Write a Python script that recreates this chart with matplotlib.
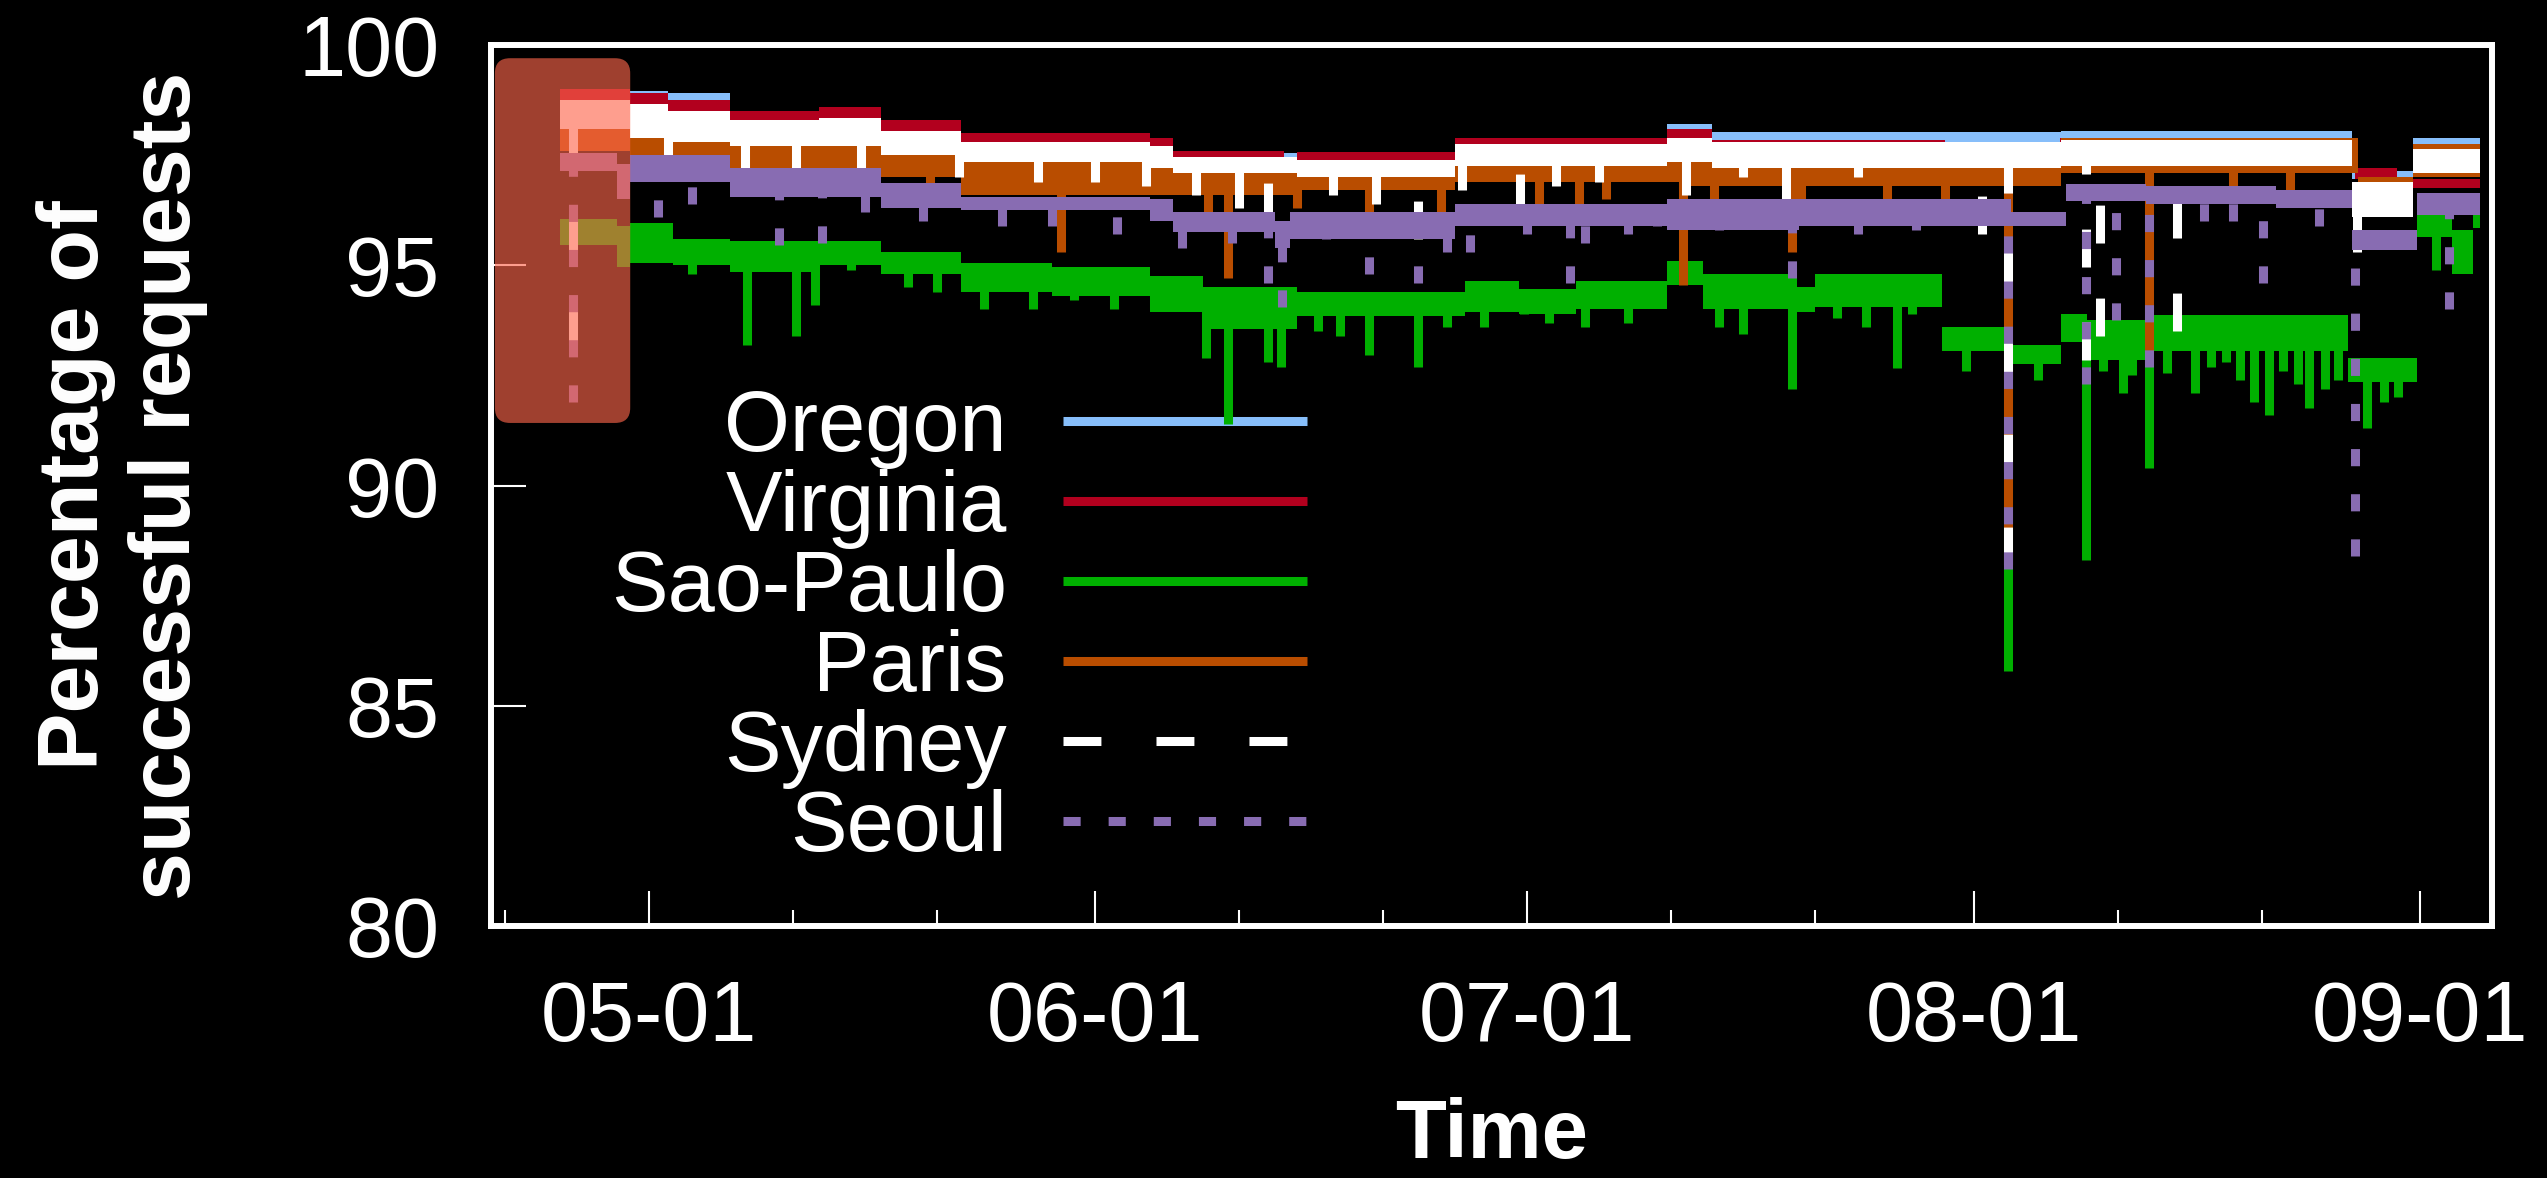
import matplotlib
matplotlib.use('agg')
import matplotlib.pyplot as plt
import matplotlib.dates as mdates
from matplotlib.lines import Line2D
from matplotlib.patches import FancyBboxPatch
import numpy as np

plt.rcParams['font.family'] = ['Liberation Sans', 'DejaVu Sans']

# x values are days after 05-01; each level holds until the next day entry
END_DAY = 127.2

oregon_day = [-6.2, -1.3, 1.3, 5.6, 11.8, 16.1, 21.7, 34.8, 36.4, 45.0, 56.0, 70.7, 73.8, 98.1, 118.3, 122.5]
oregon_lo = [98.6, 98.55, 98.35, 98.2, 98.2, 97.9, 97.75, 97.55, 97.4, 97.35, 97.6, 97.9, 97.75, 97.7, 96.95, 97.65]
oregon_hi = [98.95, 98.95, 98.9, 98.45, 98.55, 98.25, 97.95, 97.85, 97.55, 97.5, 97.85, 98.2, 98.02, 98.05, 97.15, 97.9]

virginia_day = [-6.2, -1.3, 1.3, 5.6, 11.8, 16.1, 21.7, 34.8, 36.4, 44.1, 45.0, 56.0, 70.7, 73.8, 90.0, 98.0, 106.0, 118.5, 121.4]
virginia_lo = [98.6, 98.55, 98.35, 98.2, 98.2, 97.9, 97.75, 97.55, 97.4, 96.9, 97.35, 97.6, 97.8, 97.6, 97.5, 97.6, 97.55, 96.95, 96.75]
virginia_hi = [99.0, 98.9, 98.75, 98.5, 98.6, 98.3, 98.0, 97.9, 97.6, 97.3, 97.57, 97.9, 98.1, 97.85, 97.8, 97.9, 97.8, 97.2, 96.95]

saopaulo_day = [-6.2, -2.2, -1.3, 1.7, 5.6, 11.8, 16.1, 21.7, 28.0, 34.8, 38.5, 45.0, 56.7, 60.4, 64.4, 70.7, 73.2,
                79.7, 81.0, 89.8, 94.5, 98.1, 99.9, 104.4, 118.0, 122.8, 125.2, 126.7]
saopaulo_lo = [95.45, 94.96, 95.05, 95.0, 94.85, 95.0, 94.8, 94.4, 94.3, 93.95, 93.55, 93.85, 93.95, 93.9, 94.0, 94.55, 94.0,
               93.95, 94.05, 93.05, 92.75, 93.25, 92.85, 93.05, 92.35, 95.65, 94.8, 95.85]
saopaulo_hi = [96.05, 95.9, 95.96, 95.6, 95.55, 95.55, 95.3, 95.05, 94.95, 94.75, 94.5, 94.4, 94.65, 94.45, 94.65, 95.1, 94.8,
               94.5, 94.8, 93.6, 93.2, 93.9, 93.75, 93.87, 92.9, 96.25, 95.8, 96.2]
saopaulo_spike_day = [3.0, 6.8, 10.2, 11.5, 14.0, 18.0, 20.0, 23.3, 26.7, 29.5, 32.3, 35.1, 38.7, 40.2, 43.0, 43.9,
                      46.5, 48.0, 50.0, 53.4, 55.4, 58.0, 60.8, 62.5, 65.0, 68.0, 74.3, 76.0, 79.4, 82.5, 84.5,
                      86.7, 87.7, 91.5, 94.4, 96.5, 99.8, 101.0, 102.4, 103.0, 104.2, 105.4, 107.4, 108.5, 109.5,
                      110.5, 111.5, 112.5, 113.5, 114.5, 115.3, 116.4, 117.3, 119.3, 120.5, 121.5, 124.1]
saopaulo_spike_val = [94.8, 93.2, 93.4, 94.1, 94.9, 94.5, 94.4, 94.0, 94.0, 94.2, 94.0, 94.0, 92.9, 91.4, 92.8, 92.7,
                      93.5, 93.4, 92.96, 92.7, 93.6, 93.6, 93.9, 93.7, 93.6, 93.7, 93.6, 93.45, 92.2, 93.8, 93.6,
                      92.67, 93.9, 92.6, 85.8, 92.4, 88.3, 92.6, 92.1, 92.5, 90.4, 92.55, 92.1, 92.7, 92.8,
                      92.4, 91.9, 91.6, 92.6, 92.3, 91.75, 92.2, 92.4, 91.3, 91.9, 92.0, 94.9]

paris_day = [-6.2, -1.3, 5.6, 16.1, 21.7, 34.8, 45.0, 56.0, 72.0, 79.9, 94.2, 98.1, 118.7, 122.5]
paris_lo = [97.6, 97.3, 97.0, 97.0, 96.6, 96.6, 96.7, 96.9, 96.8, 96.8, 96.8, 97.1, 96.5, 97.0]
paris_hi = [98.3, 98.2, 98.0, 97.9, 97.7, 97.4, 97.1, 97.55, 97.55, 97.6, 97.45, 97.9, 97.0, 97.75]
paris_spike_day = [11.3, 15.0, 19.5, 28.6, 38.8, 40.2, 45.0, 50.0, 55.0, 61.8, 64.6, 66.5, 71.8, 74.0, 79.4, 80.0,
                   86.0, 90.0, 94.4, 104.2, 110.0, 114.0]
paris_spike_val = [96.6, 96.8, 96.7, 95.3, 96.0, 94.7, 96.3, 96.0, 95.8, 96.4, 96.4, 96.5, 94.55, 96.35, 95.3, 96.3,
                   96.4, 96.5, 88.2, 93.0, 96.6, 96.5]

sydney_day = [-6.2, -1.3, 1.3, 5.6, 11.8, 16.1, 21.7, 34.8, 36.4, 45.0, 56.0, 70.7, 73.8, 98.1, 118.3, 122.5]
sydney_lo = [98.1, 97.9, 97.8, 97.7, 97.7, 97.5, 97.35, 97.2, 97.1, 97.0, 97.25, 97.35, 97.2, 97.25, 96.1, 97.1]
sydney_hi = [98.75, 98.65, 98.5, 98.3, 98.35, 98.05, 97.8, 97.7, 97.45, 97.4, 97.75, 97.9, 97.8, 97.85, 96.9, 97.65]
sydney_spike_day = [-5.3, 1.3, 6.7, 10.2, 14.7, 21.5, 27.0, 31.0, 34.5, 38.0, 41.0, 43.0, 47.5, 50.5, 53.4, 56.5,
                    60.5, 63.0, 66.0, 72.0, 76.0, 79.0, 84.0, 92.6, 94.4, 99.8, 100.8, 106.1, 118.6]
sydney_spike_val = [93.2, 97.2, 97.1, 97.2, 96.9, 97.0, 96.9, 96.9, 96.8, 96.6, 96.3, 96.0, 96.6, 96.4, 95.6, 96.7,
                    96.2, 96.8, 96.9, 96.6, 97.0, 96.5, 97.0, 95.7, 88.2, 92.85, 93.4, 93.5, 95.3]

seoul_day = [-6.2, -2.2, -1.3, 5.6, 16.1, 21.7, 34.8, 36.4, 43.5, 44.5, 56.0, 70.7, 79.9, 94.6, 98.4, 104.0, 113.0, 118.3, 122.8]
seoul_lo = [97.15, 96.5, 96.9, 96.55, 96.3, 96.25, 96.0, 95.75, 95.4, 95.6, 95.9, 95.8, 95.9, 95.9, 96.45, 96.4, 96.3, 95.35, 96.15]
seoul_hi = [97.55, 97.3, 97.5, 97.2, 96.87, 96.55, 96.5, 96.2, 96.0, 96.2, 96.4, 96.5, 96.5, 96.2, 96.85, 96.8, 96.7, 95.8, 96.65]
seoul_spike_day = [-5.3, 0.6, 3.0, 9.0, 12.0, 15.0, 19.0, 24.5, 28.0, 32.5, 37.0, 40.5, 43.0, 44.0, 47.0, 50.0,
                   53.4, 55.4, 57.0, 61.0, 64.0, 65.0, 68.0, 70.0, 74.3, 79.4, 84.0, 88.0, 94.4, 99.8, 101.9,
                   104.2, 108.0, 110.0, 112.1, 116.0, 118.5, 125.0]
seoul_spike_val = [91.9, 96.1, 96.4, 95.45, 95.5, 96.2, 96.0, 95.9, 95.9, 95.7, 95.4, 95.5, 94.6, 94.05, 95.6, 94.8,
                   94.6, 95.3, 95.3, 95.7, 94.6, 95.5, 95.7, 95.9, 95.8, 94.7, 95.7, 95.8, 88.1, 92.3, 93.76,
                   92.7, 96.0, 96.0, 94.6, 95.9, 88.4, 94.0]

# highlighted start-up period
highlight_days = [-10.7, -1.3]
highlight_vals = [91.42, 99.7]

series = [
    ('Oregon', oregon_day, oregon_lo, oregon_hi, [], [], '#87befa', '-'),
    ('Virginia', virginia_day, virginia_lo, virginia_hi, [], [], '#b2001e', '-'),
    ('Sao-Paulo', saopaulo_day, saopaulo_lo, saopaulo_hi, saopaulo_spike_day, saopaulo_spike_val, '#00b000', '-'),
    ('Paris', paris_day, paris_lo, paris_hi, paris_spike_day, paris_spike_val, '#b94d00', '-'),
    ('Sydney', sydney_day, sydney_lo, sydney_hi, sydney_spike_day, sydney_spike_val, '#ffffff', (0, (4.2, 6.1))),
    ('Seoul', seoul_day, seoul_lo, seoul_hi, seoul_spike_day, seoul_spike_val, '#886cb2', (0, (1.9, 3.1))),
]

base = mdates.date2num(np.datetime64('2018-05-01'))
LW = 6.5

fig = plt.figure(figsize=(25.47, 11.78), dpi=100, facecolor='black')
ax = fig.add_axes([0.19277, 0.21392, 0.78563, 0.74788], facecolor='black')

handles = []
for i, (name, day, lo, hi, sday, sval, col, ls) in enumerate(series):
    z = 2 + i * 0.1
    d = base + np.append(day, END_DAY)
    l = np.append(lo, lo[-1])
    h = np.append(hi, hi[-1])
    ax.fill_between(d, l, h, step='post', color=col, lw=0, zorder=z)
    if len(sday):
        idx = np.searchsorted(day, sday, side='right') - 1
        top = (np.asarray(lo)[idx] + np.asarray(hi)[idx]) / 2
        ax.vlines(base + np.asarray(sday), sval, top, colors=col, linewidth=LW, linestyles=ls, zorder=z)
    handles.append(Line2D([], [], color=col, lw=LW, ls=ls, solid_capstyle='butt', dash_capstyle='butt'))

x0, x1 = highlight_days
y0, y1 = highlight_vals
box = FancyBboxPatch((base + x0, y0), x1 - x0, y1 - y0,
                     boxstyle='round,pad=0,rounding_size=1.05', mutation_aspect=0.327,
                     fc='#fe664c', ec='none', alpha=0.63, zorder=10)
ax.add_patch(box)

ax.set_xlim(base - 10.97, base + 128.0)
ax.set_ylim(80, 100)
ax.set_yticks([80, 85, 90, 95, 100])
ax.xaxis.set_major_locator(mdates.MonthLocator(bymonthday=1))
ax.xaxis.set_major_formatter(mdates.DateFormatter('%m-%d'))
ax.xaxis.set_minor_locator(mdates.DayLocator(bymonthday=[11, 21]))

for s in ax.spines.values():
    s.set_color('white')
    s.set_linewidth(4.3)
ax.tick_params(which='major', direction='in', length=25, width=1.5, color='white',
               labelcolor='white', labelsize=61)
ax.tick_params(which='minor', direction='in', length=11.5, width=1.5, color='white')
ax.tick_params(axis='x', which='major', pad=38)
ax.tick_params(axis='y', which='major', pad=37)

ax.set_xlabel('Time', fontsize=60, fontweight='bold', color='white')
ax.xaxis.set_label_coords(0.5, -0.1945)
ax.set_ylabel('Percentage of\nsuccessful requests', fontsize=62, fontweight='bold', color='white')
ax.yaxis.set_label_coords(-0.1414, 0.5)

leg = ax.legend(handles, [s[0] for s in series], loc='center right', bbox_to_anchor=(0.408, 0.337),
                frameon=False, markerfirst=False, fontsize=61, handlelength=2.88, handletextpad=0.67,
                labelspacing=0.0, borderpad=0, borderaxespad=0, labelcolor='white')
leg.set_zorder(1.5)

plt.savefig('out.png', dpi=100, facecolor='black')
